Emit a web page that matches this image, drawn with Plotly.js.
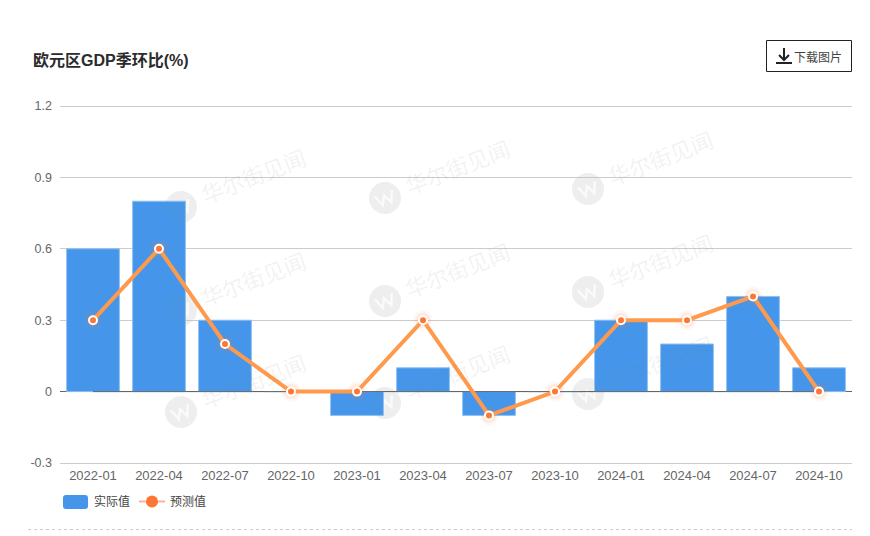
<!DOCTYPE html>
<html><head><meta charset="utf-8">
<script src="https://cdn.plot.ly/plotly-3.0.1.min.js"></script>
<style>html,body{margin:0;padding:0;background:#fff}</style></head>
<body><div id="chart" style="width:870px;height:536px"></div>
<script>
const categories=["2022-01","2022-04","2022-07","2022-10","2023-01","2023-04","2023-07","2023-10","2024-01","2024-04","2024-07","2024-10"];
const actual=[0.6,0.8,0.3,0,-0.1,0.1,-0.1,0,0.3,0.2,0.4,0.1];
const forecast=[0.3,0.6,0.2,0,0,0.3,-0.1,0,0.3,0.3,0.4,0];
const baseline=[0,0,0,0,0,0,0,0,0,0,0,0];
const yTicks=[-0.3,0,0.3,0.6,0.9,1.2];
const yTickText=["-0.3","0","0.3","0.6","0.9","1.2"];
const W=870,H=536,L=60,R=852,T=106,B=463;
const px=x=>(x-L)/(R-L), py=y=>(B-y)/(B-T);
const FONT='"Liberation Sans","Noto Sans CJK SC",sans-serif';
const CJK='"Noto Sans CJK SC","Liberation Sans",sans-serif';
const shapes=[],ann=[];
// edge gridlines
[106.5,463.5].forEach(v=>shapes.push({type:'line',xref:'paper',yref:'paper',x0:0,x1:1,y0:py(v),y1:py(v),layer:'below',line:{color:'#ccc',width:1}}));
// watermark
const wmX=[181,385,588],wmY=[207,310,412];
const wGlyph=[[-9,-5],[-4.5,6],[0,-3],[4.5,6],[9,-5]];
const cosA=Math.cos(20*Math.PI/180),sinA=Math.sin(20*Math.PI/180);
wmY.forEach(cy0=>wmX.forEach((cx,i)=>{
  const cy=cy0-9*i;
  shapes.push({type:'circle',xref:'paper',yref:'paper',layer:'below',x0:px(cx-16),x1:px(cx+16),y0:py(cy+16),y1:py(cy-16),fillcolor:'rgba(120,120,120,0.09)',line:{width:0}});
  shapes.push({type:'path',xref:'paper',yref:'paper',layer:'below',path:wGlyph.map((p,k)=>`${k?'L':'M'}${px(cx+p[0]*cosA+p[1]*sinA)},${py(cy-p[0]*sinA+p[1]*cosA)}`).join(' '),line:{color:'#fff',width:2.5}});
  shapes.push({type:'circle',xref:'paper',yref:'paper',layer:'above',x0:px(cx-16),x1:px(cx+16),y0:py(cy+16),y1:py(cy-16),fillcolor:'rgba(120,120,120,0.04)',line:{width:0}});
  ann.push({xref:'paper',yref:'paper',x:px(cx+72),y:py(cy-32),xanchor:'center',yanchor:'middle',text:'华尔街见闻',showarrow:false,textangle:-21,font:{family:CJK,size:22,color:'rgba(120,120,120,0.10)'}});
}));
// title
ann.push({xref:'paper',yref:'paper',x:px(33),y:py(60),xanchor:'left',yanchor:'middle',text:'<b>欧元区GDP季环比(%)</b>',showarrow:false,font:{family:FONT,size:16,color:'#2b2b2b'},borderpad:0,borderwidth:0});
// download button
shapes.push({type:'rect',xref:'paper',yref:'paper',x0:px(766.5),x1:px(851.5),y0:py(71.5),y1:py(40.5),line:{color:'#222',width:1},fillcolor:'#fff'});
shapes.push({type:'path',xref:'paper',yref:'paper',path:`M${px(784)},${py(48)} L${px(784)},${py(59)} M${px(779)},${py(55)} L${px(784)},${py(60)} L${px(789)},${py(55)} M${px(776)},${py(63)} L${px(792)},${py(63)}`,line:{color:'#222',width:2}});
ann.push({xref:'paper',yref:'paper',x:px(793),y:py(56),xanchor:'left',yanchor:'middle',text:'下载图片',showarrow:false,font:{family:CJK,size:12,color:'#444'},borderpad:0});
// legend
const r=3,sx0=px(63),sx1=px(88),sy0=py(509),sy1=py(495),rx=r/(R-L),ry=r/(B-T);
shapes.push({type:'path',xref:'paper',yref:'paper',path:`M${sx0+rx},${sy0} L${sx1-rx},${sy0} Q${sx1},${sy0} ${sx1},${sy0+ry} L${sx1},${sy1-ry} Q${sx1},${sy1} ${sx1-rx},${sy1} L${sx0+rx},${sy1} Q${sx0},${sy1} ${sx0},${sy1-ry} L${sx0},${sy0+ry} Q${sx0},${sy0} ${sx0+rx},${sy0} Z`,fillcolor:'#4596EA',line:{width:0}});
ann.push({xref:'paper',yref:'paper',x:px(92.5),y:py(500),xanchor:'left',yanchor:'middle',text:'实际值',showarrow:false,font:{family:CJK,size:12,color:'#444'},borderpad:0});
shapes.push({type:'line',xref:'paper',yref:'paper',x0:px(139),x1:px(165),y0:py(501.5),y1:py(501.5),line:{color:'#FFB594',width:2}});
shapes.push({type:'circle',xref:'paper',yref:'paper',x0:px(146),x1:px(158),y0:py(507.5),y1:py(495.5),fillcolor:'#FF7632',line:{width:0}});
ann.push({xref:'paper',yref:'paper',x:px(169),y:py(500),xanchor:'left',yanchor:'middle',text:'预测值',showarrow:false,font:{family:CJK,size:12,color:'#444'},borderpad:0});
// dashed divider
shapes.push({type:'line',xref:'paper',yref:'paper',x0:px(28),x1:px(852),y0:py(529.5),y1:py(529.5),line:{color:'#ccc',width:1,dash:'3px,3px'}});
const traces=[
 {type:'bar',x:categories,y:actual,name:'实际值',width:0.8,marker:{color:'#4596EA',line:{color:'#8FC0F2',width:1}},hoverinfo:'x+y'},
 {type:'scatter',mode:'lines',x:categories,y:baseline,showlegend:false,hoverinfo:'skip',line:{color:'#666',width:1}},
 {type:'scatter',mode:'markers',x:categories,y:forecast,showlegend:false,hoverinfo:'skip',marker:{size:20,color:'rgba(255,118,50,0.06)',line:{width:0}}},
 {type:'scatter',mode:'markers',x:categories,y:forecast,showlegend:false,hoverinfo:'skip',marker:{size:15,color:'rgba(255,118,50,0.10)',line:{width:0}}},
 {type:'scatter',mode:'lines+markers',x:categories,y:forecast,name:'预测值',line:{color:'#FF9A4D',width:4},marker:{size:8,color:'#FF7632',line:{color:'#fff',width:2}},hoverinfo:'x+y'}
];
const layout={width:W,height:H,margin:{l:L,r:W-R,t:T,b:H-B,pad:0},paper_bgcolor:'#fff',plot_bgcolor:'#fff',showlegend:false,bargap:0.2,
 font:{family:FONT,size:12,color:'#666'},
 xaxis:{type:'category',categories:categories,range:[-0.5,11.5],showgrid:false,zeroline:false,showline:false,ticks:'',ticklabelstandoff:3,tickfont:{family:FONT,size:13,color:'#666'},tickangle:0},
 yaxis:{range:[-0.3,1.2],tickmode:'array',tickvals:yTicks,ticktext:yTickText,showgrid:true,gridcolor:'#ccc',gridwidth:1,zeroline:true,zerolinecolor:'#666',zerolinewidth:1,showline:false,ticks:'',ticklen:0,ticklabelstandoff:7,tickfont:{family:FONT,size:12.5,color:'#666'},automargin:false},
 shapes:shapes,annotations:ann};
Plotly.newPlot('chart',traces,layout,{displayModeBar:false,staticPlot:true});
</script></body></html>
